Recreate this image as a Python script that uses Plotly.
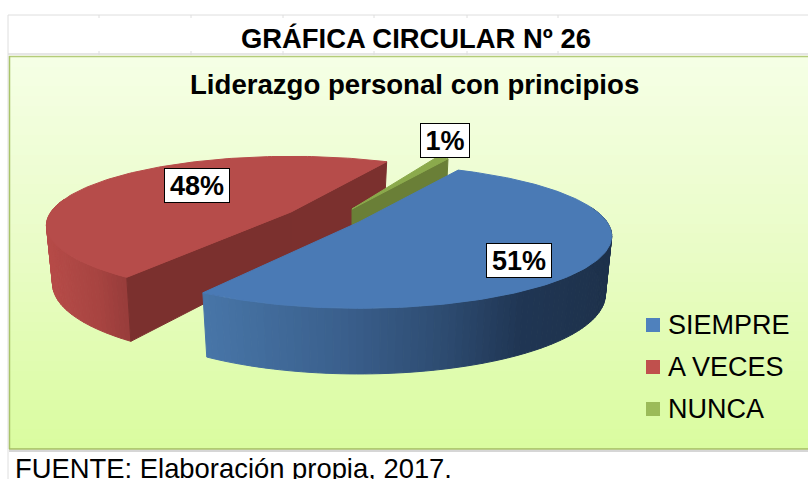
import numpy as np
import plotly.graph_objects as go

categories = ["SIEMPRE", "A VECES", "NUNCA"]
values = [51, 48, 1]
chart_heading = "GRÁFICA CIRCULAR Nº 26"
chart_title = "Liderazgo personal con principios"
source_note = "FUENTE: Elaboración propia, 2017."

legend_colors = ["#4F81BD", "#C0504D", "#9BBB59"]
top_colors = ["#4A7AB5", "#B64C4A", "#8BAA4C"]
face_colors = [None, "#7B302E", "#6A7F37"]
apexes = [(359, 222), (291, 212), (352, 209)]
radii = [248, 240, 240]
twists = [0.0, -3.5, 0.0]
label_boxes = [(518.5, 260.5), (196.5, 185), (445, 140.5)]
START = 61.0
K = 0.29
C = 0.2
D_APEX = 47.0
D_RING = 56.5
BOTTOM_SCALE = 0.975


def rim(theta, apex, r, scale=1.0, depth=0.0):
    t = np.radians(theta)
    s = 1 - C * np.sin(t)
    x = apex[0] + scale * r * np.cos(t) * s
    y = apex[1] - scale * K * r * np.sin(t) * s + depth * s
    return x, y


def lerp(stops, u):
    u = min(max(u, 0.0), 1.0)
    for (a, ca), (b, cb) in zip(stops, stops[1:]):
        if u <= b:
            f = (u - a) / (b - a)
            return "rgb(%d,%d,%d)" % tuple(ca[i] + f * (cb[i] - ca[i]) for i in range(3))
    return "rgb(%d,%d,%d)" % stops[-1][1]


def poly(xs, ys, color, line=1.0):
    return go.Scatter(x=list(xs), y=list(ys), mode="lines", fill="toself", fillcolor=color,
                      line=dict(color=color, width=line), hoverinfo="skip", showlegend=False)


spans = []
angle = START
for v, tw in zip(values, twists):
    spans.append((angle - v * 3.6 + tw, angle + tw))
    angle -= v * 3.6

fig = go.Figure()

# panel background
ys_bg = np.linspace(57, 449, 41)
fig.add_trace(go.Heatmap(x=[9, 808], y=ys_bg, z=[[i] for i in range(40)], showscale=False, hoverinfo="skip",
                         colorscale=[[0, "#F5FFE5"], [0.5, "#E9FCC6"], [1, "#DAFCA0"]]))

shade = [
    None,
    [(0, (183, 76, 73)), (0.6, (168, 68, 65)), (1, (150, 60, 58))],
    [(0, (106, 127, 55)), (1, (106, 127, 55))],
]
blue_shade = [(0, (72, 118, 168)), (0.35, (58, 95, 140)), (0.6, (45, 75, 112)), (0.78, (32, 54, 84)), (1, (30, 50, 76))]

# draw order: red, green, blue
for idx in (1, 2, 0):
    lo, hi = spans[idx]
    apex, r = apexes[idx], radii[idx]
    th = np.linspace(lo, hi, 160)
    # outer wall, cut into strips so it can be shaded
    strips = np.linspace(lo, hi, 121 if idx != 2 else 3)
    for a, b in zip(strips, strips[1:]):
        if np.sin(np.radians((a + b) / 2)) > 0.2:
            continue
        x1, y1 = rim(a, apex, r)
        x2, y2 = rim(b, apex, r)
        x3, y3 = rim(b, apex, r, BOTTOM_SCALE, D_RING)
        x4, y4 = rim(a, apex, r, BOTTOM_SCALE, D_RING)
        xm = (x1 + x2) / 2
        if idx == 0:
            col = lerp(blue_shade, (xm - 205) / (612 - 205))
        else:
            col = lerp(shade[idx], (xm - 47) / (130 - 47))
        fig.add_trace(poly([x1, x2, x3, x4, x1], [y1, y2, y3, y4, y1], col))
    # flat cut faces
    if face_colors[idx]:
        for edge in ((lo, hi) if idx == 1 else (lo,)):
            xt, yt = rim(edge, apex, r)
            xb, yb = rim(edge, apex, r, BOTTOM_SCALE, D_RING)
            fig.add_trace(poly([apex[0], xt, xb, apex[0], apex[0]],
                               [apex[1], yt, yb, apex[1] + D_APEX, apex[1]], face_colors[idx]))
    # top surface
    xs, ys = rim(th, apex, r)
    fig.add_trace(poly(np.r_[apex[0], xs, apex[0]], np.r_[apex[1], ys, apex[1]], top_colors[idx]))

# legend swatches
for i, name in enumerate(categories):
    fig.add_trace(go.Scatter(x=[653], y=[325 + i * 42], mode="markers", name=name, showlegend=False,
                             marker=dict(symbol="square", size=14, color=legend_colors[i]), hoverinfo="name"))

ann = []
ARIAL = "Liberation Sans, Arial, sans-serif"


def text(x, y, s, size, bold=False, anchor="left", **kw):
    ann.append(dict(x=x, y=y, xref="x", yref="y", text=f"<b>{s}</b>" if bold else s, showarrow=False,
                    xanchor=anchor, yanchor="middle", font=dict(family=ARIAL, size=size, color="#000"), **kw))


text(416, 38, chart_heading, 27.4, True, "center")
text(414.5, 84, chart_title, 27.6, True, "center")
text(13, 468, source_note, 27.4, False, "left")
for i, name in enumerate(categories):
    text(666, 325 + i * 42, name, 27, False, "left")
for v, (bx, by) in zip(values, label_boxes):
    text(bx, by, f"{v}%", 27, True, "center", bgcolor="#FFFFFF", bordercolor="#000000", borderwidth=1,
         borderpad=0, width=64 if v >= 10 else 48, height=33, align="center", valign="middle")

grid = "#DEDEDE"
shapes = [
    dict(type="line", x0=8, x1=808, y0=15, y1=15, line=dict(color=grid, width=1)),
    dict(type="line", x0=8, x1=808, y0=54, y1=54, line=dict(color=grid, width=1.5)),
    dict(type="line", x0=8, x1=8, y0=15, y1=479, line=dict(color=grid, width=1)),
    # panel frame
    dict(type="line", x0=9, x1=808, y0=56.5, y1=56.5, line=dict(color="#B4CC7A", width=1.5)),
    dict(type="line", x0=9.5, x1=9.5, y0=56, y1=449, line=dict(color="#A9C46A", width=1.5)),
    dict(type="line", x0=9, x1=808, y0=449, y1=449, line=dict(color="#A3BB62", width=1.5)),
    dict(type="line", x0=9, x1=808, y0=451, y1=451, line=dict(color="#C9C9C9", width=1.5)),
]
for gx in (99, 191, 283, 374, 467, 558):
    shapes.append(dict(type="line", x0=gx, x1=gx, y0=15, y1=18, line=dict(color=grid, width=1)))
    shapes.append(dict(type="line", x0=gx, x1=gx, y0=51, y1=55, line=dict(color=grid, width=1)))

fig.update_layout(
    width=808, height=479, margin=dict(l=0, r=0, t=0, b=0), paper_bgcolor="#FFFFFF", plot_bgcolor="#FFFFFF",
    xaxis=dict(range=[0, 808], visible=False, fixedrange=True),
    yaxis=dict(range=[479, 0], visible=False, fixedrange=True),
    showlegend=False, annotations=ann, shapes=shapes,
)
fig.write_html("out.html", config=dict(displayModeBar=False),
               post_script="document.body.style.margin='0';document.documentElement.style.overflow='hidden';")
